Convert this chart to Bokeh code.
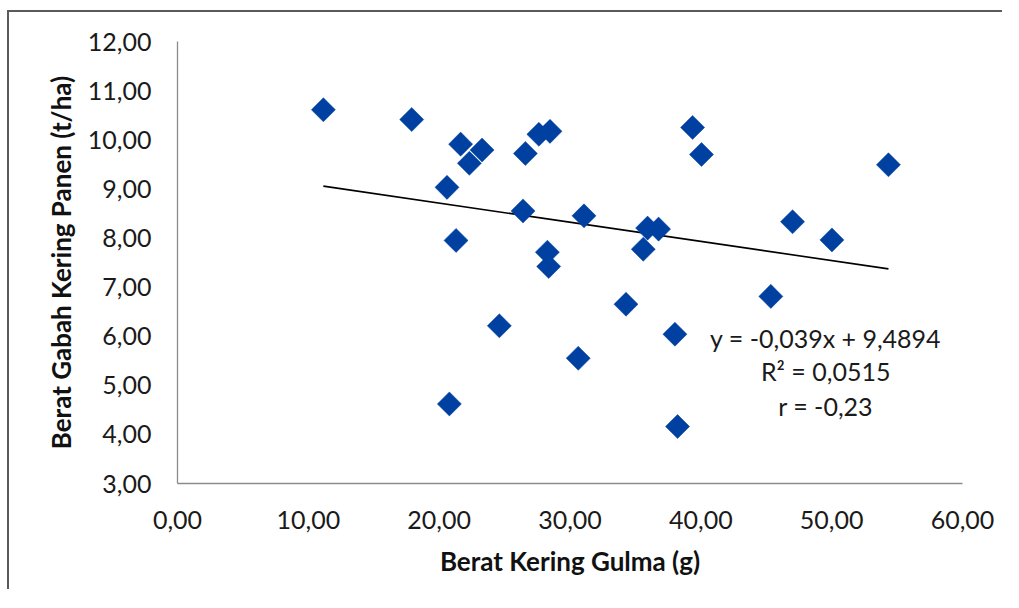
import math
from bokeh.plotting import figure
from bokeh.models import ColumnDataSource, Range1d, FixedTicker, CustomJSTickFormatter, Label
from bokeh.embed import file_html
from bokeh.resources import INLINE

# ---- data ----
berat_kering_gulma = [11.15, 17.90, 21.64, 23.28, 22.31, 20.60, 21.29, 20.78, 24.60, 26.41,
                      26.59, 27.62, 28.47, 28.27, 28.37, 30.63, 31.07, 34.28, 35.60, 35.93,
                      36.77, 38.02, 38.22, 39.37, 40.05, 45.35, 47.01, 50.02, 54.34]
berat_gabah = [10.61, 10.41, 9.91, 9.79, 9.52, 9.03, 7.95, 4.62, 6.21, 8.55,
               9.72, 10.11, 10.17, 7.71, 7.42, 5.55, 8.45, 6.65, 7.77, 8.20,
               8.18, 6.04, 4.16, 10.25, 9.70, 6.81, 8.33, 7.96, 9.49]
slope = -0.039
intercept = 9.4894
x_ticks = [0, 10, 20, 30, 40, 50, 60]
y_ticks = [3, 4, 5, 6, 7, 8, 9, 10, 11, 12]
annotation_lines = ["y = -0,039x + 9,4894", "R\u00b2 = 0,0515", "r = -0,23"]

FONT = "Lato"
BLUE = "#0040A0"

p = figure(width=995, height=579, output_backend="svg", toolbar_location=None,
           x_range=Range1d(0, 60), y_range=Range1d(3, 12),
           min_border_left=168, min_border_top=29, min_border_right=42, min_border_bottom=108)
p.margin = (10, 0, 0, 7)
p.styles = {"border-top": "2px solid #5a5a5a", "border-left": "2px solid #5a5a5a"}
p.outline_line_color = None
p.grid.grid_line_color = None
p.background_fill_color = "white"
p.border_fill_color = "white"

fmt = CustomJSTickFormatter(code="return tick.toFixed(2).replace('.', ',');")
for ax, ticks in ((p.xaxis, x_ticks), (p.yaxis, y_ticks)):
    ax.ticker = FixedTicker(ticks=ticks)
    ax.formatter = fmt
    ax.axis_line_color = "#8c8c8c"
    ax.axis_line_width = 1.3
    ax.major_tick_line_color = None
    ax.minor_tick_line_color = None
    ax.major_label_text_font = FONT
    ax.major_label_text_font_size = "25px"
    ax.major_label_text_color = "#1a1a1a"
    ax.axis_label_text_font = FONT
    ax.axis_label_text_font_size = "26px"
    ax.axis_label_text_font_style = "bold"
    ax.axis_label_text_color = "#111111"

p.xaxis.axis_label = "Berat Kering Gulma (g)"
p.yaxis.axis_label = "Berat Gabah Kering Panen (t/ha)"
p.xaxis.major_label_standoff = 21
p.xaxis.axis_label_standoff = 13
p.yaxis.major_label_standoff = 20
p.yaxis.axis_label_standoff = 8

# trend line
xmin, xmax = min(berat_kering_gulma), max(berat_kering_gulma)
p.line([xmin, xmax], [slope * xmin + intercept, slope * xmax + intercept],
       line_color="black", line_width=1.6)

src = ColumnDataSource(dict(x=berat_kering_gulma, y=berat_gabah))
p.scatter("x", "y", source=src, marker="square", size=17, angle=math.pi / 4,
          fill_color=BLUE, line_color=BLUE, line_width=0.5)

ann_y = [5.955, 5.283, 4.570]
for txt, yy in zip(annotation_lines, ann_y):
    p.add_layout(Label(x=49.54, y=yy, text=txt, text_align="center", text_baseline="middle",
                       text_font=FONT, text_font_size="25px", text_color="#1a1a1a"))

open("out.html", "w").write(file_html(p, INLINE))
